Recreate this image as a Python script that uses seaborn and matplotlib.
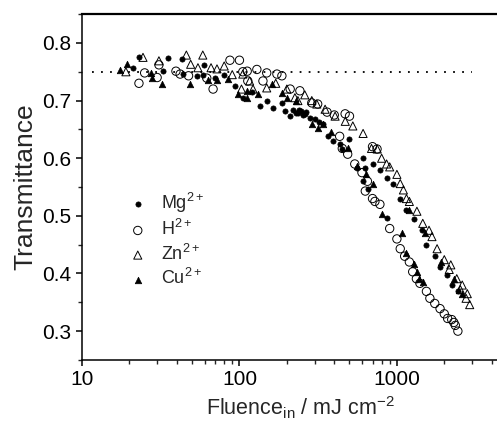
import matplotlib
matplotlib.use("Agg")
import matplotlib.pyplot as plt
import seaborn as sns
import pandas as pd
from matplotlib.ticker import MultipleLocator, LogLocator, NullFormatter

# values (fluence in mJ cm^-2, transmittance)
mg_fluence = [21, 23, 32.6, 35, 43, 43.8, 53.6, 58.5, 59.5, 70, 80, 94, 105, 120, 135, 150,
              163, 186, 195, 210, 220, 228, 235, 240, 247, 252, 260, 265, 280, 300, 320, 340,
              365, 393, 432, 450, 500, 555, 610, 610, 625, 660, 700, 780, 860, 860, 940, 1050,
              1150, 1290, 1440, 1540, 1740, 1880, 2070, 2250, 2450]
mg_trans = [0.757, 0.776, 0.751, 0.774, 0.772, 0.746, 0.743, 0.744, 0.762, 0.740, 0.745, 0.725,
            0.705, 0.715, 0.690, 0.700, 0.687, 0.696, 0.682, 0.673, 0.684, 0.678, 0.679, 0.683,
            0.682, 0.675, 0.676, 0.680, 0.670, 0.668, 0.662, 0.659, 0.638, 0.630, 0.624, 0.616,
            0.633, 0.583, 0.600, 0.560, 0.583, 0.546, 0.590, 0.580, 0.565, 0.496, 0.556, 0.530,
            0.511, 0.494, 0.476, 0.450, 0.430, 0.412, 0.398, 0.380, 0.370]

h_fluence = [23, 25, 30, 30.8, 39.5, 42, 47.5, 62, 68, 87, 100, 105, 112, 113, 129, 141, 149,
             173, 186, 210, 242, 288, 314, 360, 400, 433, 450, 469, 487, 500, 540, 600, 630,
             650, 700, 700, 725, 748, 780, 900, 1000, 1050, 1120, 1200, 1260, 1330, 1400,
             1540, 1620, 1740, 1880, 2000, 2100, 2230, 2300, 2350, 2440]
h_trans = [0.730, 0.748, 0.740, 0.762, 0.751, 0.746, 0.743, 0.739, 0.720, 0.770, 0.770, 0.750,
           0.751, 0.734, 0.754, 0.734, 0.748, 0.746, 0.743, 0.720, 0.717, 0.696, 0.694, 0.680,
           0.675, 0.638, 0.617, 0.677, 0.607, 0.673, 0.590, 0.575, 0.543, 0.560, 0.620, 0.530,
           0.525, 0.616, 0.520, 0.478, 0.460, 0.443, 0.430, 0.420, 0.403, 0.391, 0.383, 0.369,
           0.357, 0.348, 0.339, 0.330, 0.322, 0.320, 0.315, 0.310, 0.300]

zn_fluence = [19, 24.4, 30.8, 46, 49, 54.5, 58.5, 66, 72, 80, 90, 103, 105, 116, 122, 149, 170,
              200, 225, 235, 260, 288, 310, 350, 405, 470, 525, 610, 690, 750, 800, 860, 900,
              1000, 1050, 1100, 1150, 1200, 1340, 1460, 1600, 1670, 1800, 2000, 2150, 2200,
              2400, 2530, 2600, 2750, 2800, 2900]
zn_trans = [0.750, 0.775, 0.769, 0.779, 0.763, 0.757, 0.779, 0.757, 0.755, 0.760, 0.745, 0.720,
            0.746, 0.734, 0.720, 0.722, 0.730, 0.720, 0.705, 0.700, 0.710, 0.700, 0.694, 0.685,
            0.673, 0.664, 0.656, 0.643, 0.617, 0.616, 0.600, 0.590, 0.585, 0.572, 0.556, 0.545,
            0.530, 0.525, 0.508, 0.487, 0.475, 0.464, 0.443, 0.424, 0.407, 0.415, 0.391, 0.372,
            0.380, 0.357, 0.365, 0.346]

cu_fluence = [17.4, 19.3, 27.4, 27.8, 32, 48.5, 63, 72, 85, 98, 112, 112, 131, 160, 186, 200,
              230, 288, 314, 340, 380, 487, 555, 640, 700, 800, 1080, 1150, 1200, 1290, 1350,
              1390, 1460, 1500, 1900, 2300, 2580]
cu_trans = [0.753, 0.763, 0.748, 0.740, 0.728, 0.729, 0.735, 0.735, 0.738, 0.712, 0.705, 0.716,
            0.711, 0.728, 0.713, 0.705, 0.700, 0.659, 0.652, 0.660, 0.645, 0.617, 0.586, 0.572,
            0.555, 0.503, 0.470, 0.435, 0.510, 0.417, 0.403, 0.390, 0.386, 0.470, 0.420, 0.390,
            0.365]

ion_labels = ["Mg$^{2+}$", "H$^{2+}$", "Zn$^{2+}$", "Cu$^{2+}$"]
ref_level = 0.75
ref_span = [11.5, 3000]

df = pd.concat([
    pd.DataFrame({"fluence": mg_fluence, "trans": mg_trans, "ion": ion_labels[0]}),
    pd.DataFrame({"fluence": h_fluence, "trans": h_trans, "ion": ion_labels[1]}),
    pd.DataFrame({"fluence": zn_fluence, "trans": zn_trans, "ion": ion_labels[2]}),
    pd.DataFrame({"fluence": cu_fluence, "trans": cu_trans, "ion": ion_labels[3]}),
])

sns.set_style("ticks")
plt.rcParams['font.family'] = ['Liberation Sans', 'DejaVu Sans']
plt.rcParams['mathtext.fontset'] = 'custom'
plt.rcParams['mathtext.rm'] = 'Liberation Sans'
plt.rcParams['mathtext.it'] = 'Liberation Sans:italic'

fig = plt.figure(figsize=(4.97, 4.28), dpi=100)
ax = fig.add_axes([0.165, 0.159, 0.855, 0.808])

# marker style per ion: marker, size, face, line width
styles = {
    ion_labels[0]: ("o", 14, "black", 0.5),
    ion_labels[1]: ("o", 36, "none", 0.7),
    ion_labels[2]: ("^", 34, "none", 0.7),
    ion_labels[3]: ("^", 22, "black", 0.5),
}
for ion in ion_labels:
    mk, size, face, lw = styles[ion]
    sub = df[df["ion"] == ion]
    sns.scatterplot(data=sub, x="fluence", y="trans", marker=mk, s=size,
                    facecolor=face, edgecolor="black", linewidth=lw,
                    label=ion, ax=ax, zorder=3)

ax.plot(ref_span, [ref_level, ref_level], color="black", lw=1.3,
        ls=(0, (1, 4)), zorder=2)

ax.set_xscale("log")
ax.set_xlim(10, 5000)
ax.set_ylim(0.25, 0.85)
ax.set_xticks([10, 100, 1000])
ax.set_xticklabels(["10", "100", "1000"])
ax.xaxis.set_minor_locator(LogLocator(base=10, subs=range(2, 10)))
ax.xaxis.set_minor_formatter(NullFormatter())
ax.yaxis.set_minor_locator(MultipleLocator(0.05))
ax.set_yticks([0.3, 0.4, 0.5, 0.6, 0.7, 0.8])
ax.set_yticklabels(["0.3", "0.4", "0.5", "0.6", "0.7", "0.8"])

ax.tick_params(which="major", direction="out", length=4.5, width=1.1, labelsize=15,
               colors="black", pad=3)
ax.tick_params(which="minor", direction="out", length=2.8, width=1.0)
ax.spines["right"].set_visible(False)
ax.spines["left"].set_linewidth(1.1)
ax.spines["bottom"].set_linewidth(1.1)
ax.spines["top"].set_linewidth(1.6)
for sp in ax.spines.values():
    sp.set_color("black")

ax.set_xlabel("Fluence$_{\\mathrm{in}}$ / mJ cm$^{-2}$", fontsize=15.5, labelpad=4)
ax.xaxis.label.set_x(0.515)
ax.set_ylabel("Transmittance", fontsize=19, labelpad=4)

ax.legend(loc="upper left", bbox_to_anchor=(0.11, 0.49), frameon=False, fontsize=13,
          handlelength=1.0, handletextpad=0.8, labelspacing=0.25, borderpad=0,
          borderaxespad=0)

fig.savefig("out.png", dpi=100)
